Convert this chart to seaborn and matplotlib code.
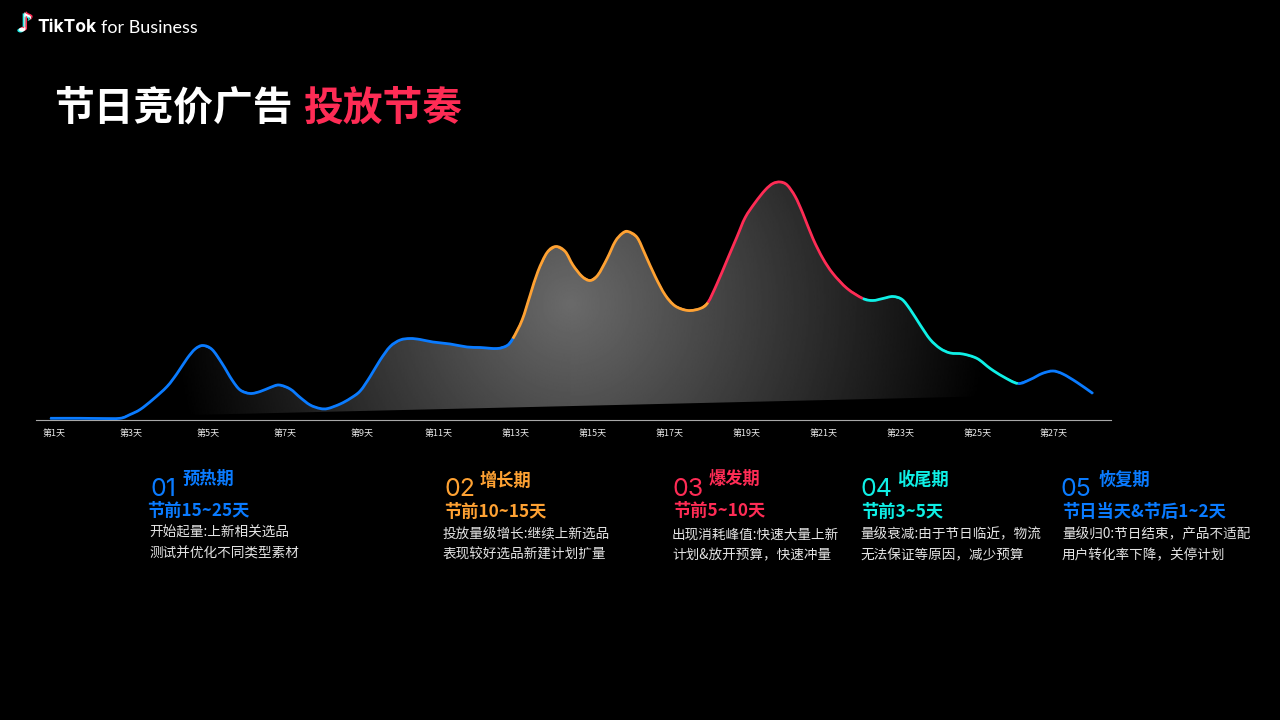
import numpy as np
import pandas as pd
import matplotlib
matplotlib.use("Agg")
import matplotlib.pyplot as plt
import matplotlib.patheffects as pe
from matplotlib.patches import Polygon, PathPatch
from matplotlib.path import Path
import seaborn as sns

# ---------- data ----------
stage_names = ["预热期", "增长期", "爆发期", "收尾期", "恢复期"]
numbers = ["01", "02", "03", "04", "05"]
subtitles = ["节前15~25天", "节前10~15天", "节前5~10天", "节前3~5天", "节日当天&节后1~2天"]
desc_line1 = ["开始起量:上新相关选品", "投放量级增长:继续上新选品", "出现消耗峰值:快速大量上新",
              "量级衰减:由于节日临近，物流", "量级归0:节日结束，产品不适配"]
desc_line2 = ["测试并优化不同类型素材", "表现较好选品新建计划扩量", "计划&放开预算，快速冲量",
              "无法保证等原因，减少预算", "用户转化率下降，关停计划"]
tick_days = list(range(1, 28, 2))
tick_labels = [f"第{d}天" for d in tick_days]

days_1 = [0.90, 1.00, 1.68, 2.20, 2.72, 2.98, 3.24, 3.57, 3.94, 4.20, 4.46, 4.67, 4.87, 5.11, 5.37, 5.63,
          5.84, 6.10, 6.36, 6.62, 6.85, 7.14, 7.40, 7.66, 7.92, 8.12, 8.44, 8.70, 8.96, 9.22, 9.48,
          9.74, 10.00, 10.26, 10.52, 10.85, 11.30, 11.74, 12.08, 12.52, 12.78, 12.93]
vals_1 = [1.2, 1.2, 1.2, 1.0, 1.2, 5, 10, 20, 33, 46, 61, 70.5, 74, 70, 56, 39.5,
          29.5, 26, 28, 32, 34.5, 30.5, 22, 14.5, 11, 11, 15.5, 21, 28.5, 43, 59.5,
          73, 79.5, 81, 80, 77.5, 75.5, 72.5, 72, 71, 74, 81]
days_2 = [12.93, 13.17, 13.38, 13.58, 13.82, 14.05, 14.29, 14.49, 14.73, 14.94, 15.14, 15.38, 15.59,
          15.77, 15.92, 16.16, 16.37, 16.63, 16.89, 17.15, 17.48, 17.80, 18.00]
vals_2 = [81, 99.5, 124.5, 148, 167, 173, 168, 154.5, 143, 139, 144.5, 161, 178,
          186, 188, 182, 165, 143, 124.5, 113.5, 109, 111, 117]
days_3 = [18.00, 18.24, 18.50, 18.76, 18.97, 19.23, 19.49, 19.69, 19.88, 20.06, 20.27, 20.47, 20.73,
          20.99, 21.25, 21.62, 22.03]
vals_3 = [117, 136, 159.5, 183, 202, 217, 229.5, 236, 237.5, 234.5, 223, 206, 181,
          161, 146, 131, 121]
days_4 = [22.03, 22.29, 22.55, 22.81, 23.05, 23.26, 23.52, 23.78, 24.04, 24.30, 24.63, 25.00, 25.34,
          25.67, 26.06]
vals_4 = [121, 119, 121, 123, 120, 110, 94.5, 80, 71, 66.5, 65.5, 61, 51, 43, 36]
days_5 = [26.06, 26.38, 26.69, 26.97, 27.23, 27.60, 28.01]
vals_5 = [36, 40, 46, 48.5, 45.5, 37, 26]

base_days = [26.0, 4.0]
base_vals = [23.9, 4.0]

BLUE, ORANGE, RED, CYAN = "#0A7BFF", "#FFA233", "#FE2C55", "#0FF0E6"
stage_colors = [BLUE, ORANGE, RED, CYAN, BLUE]

# ---------- setup ----------
sns.set_theme(style="dark", rc={"axes.facecolor": "black", "figure.facecolor": "black"})
plt.rcParams["font.family"] = ["Noto Sans CJK SC", "DejaVu Sans"]

W, H = 1280, 720
fig = plt.figure(figsize=(12.8, 7.2), dpi=100, facecolor="black")


def fx(x):
    return x / W


def fy(y):
    return 1 - y / H


def px(size):
    return size * 0.72


left, right, base_y, top_y = 36, 1111, 419.5, 140
ax = fig.add_axes([fx(left), fy(base_y), (right - left) / W, (base_y - top_y) / H])
ax.set_facecolor("black")

# ---------- gradient area ----------
stage_days = [days_1, days_2, days_3, days_4, days_5]
stage_vals = [vals_1, vals_2, vals_3, vals_4, vals_5]
all_days = days_1 + days_2[1:] + days_3[1:] + days_4[1:] + days_5[1:]
all_vals = vals_1 + vals_2[1:] + vals_3[1:] + vals_4[1:] + vals_5[1:]
curve = [(d, v) for d, v in zip(all_days, all_vals) if base_days[1] - 0.1 <= d <= base_days[0] + 0.1]
poly_pts = curve + list(zip(base_days, base_vals))

gd, gv = np.meshgrid(np.linspace(3, 28, 700), np.linspace(0, 280, 280))
dx = (gd - 14.42) * 38.46
dy = gv - 114.5
radius = np.hypot(dx, dy)
reach = np.where(dx < 0, 400.0, 420.0)
shade = np.clip(106 * (1 - radius / reach), 0, 255)
im = ax.imshow(shade, extent=[3, 28, 0, 280], origin="lower", cmap="gray", vmin=0, vmax=255,
               aspect="auto", zorder=1, interpolation="bilinear")
clip = Polygon(poly_pts, closed=True, transform=ax.transData, facecolor="none", edgecolor="none")
ax.add_patch(clip)
im.set_clip_path(clip)

# ---------- line: thin seaborn polyline through the readings, rounded by a Bezier stroke ----------
frames = [pd.DataFrame({"day": d, "value": v, "stage": n})
          for n, d, v in zip(numbers, stage_days, stage_vals)]
df = pd.concat(frames, ignore_index=True)
sns.lineplot(data=df, x="day", y="value", hue="stage", palette=stage_colors, sort=False,
             estimator=None, legend=False, linewidth=0.8, ax=ax, zorder=3)

pts = np.column_stack([all_days, all_vals])
tangents = np.zeros_like(pts)
tangents[1:-1] = (pts[2:] - pts[:-2]) / 6.0
tangents[0] = (pts[1] - pts[0]) / 3.0
tangents[-1] = (pts[-1] - pts[-2]) / 3.0
start = 0
for d, col in zip(stage_days, stage_colors):
    stop = start + len(d) - 1
    verts = [tuple(pts[start])]
    codes = [Path.MOVETO]
    for k in range(start, stop):
        verts += [tuple(pts[k] + tangents[k]), tuple(pts[k + 1] - tangents[k + 1]), tuple(pts[k + 1])]
        codes += [Path.CURVE4] * 3
    ax.add_patch(PathPatch(Path(verts, codes), facecolor="none", edgecolor=col, linewidth=2.0,
                           capstyle="butt", joinstyle="round", zorder=4))
    start = stop

ax.set_xlim(0.532, 28.48)
ax.set_ylim(0, base_y - top_y)
ax.set_xlabel("")
ax.set_ylabel("")
ax.set_yticks([])
ax.set_xticks(tick_days)
ax.set_xticklabels(tick_labels, fontsize=px(9), color="#e8e8e8")
ax.tick_params(axis="x", length=0, pad=7.0)
ax.grid(False)
for s in ["top", "left", "right"]:
    ax.spines[s].set_visible(False)
ax.spines["bottom"].set_color("#a8a8a8")
ax.spines["bottom"].set_linewidth(0.8)

# ---------- header ----------
fig.text(fx(54), fy(108), "节日竞价广告", color="white", fontsize=px(39.8), fontweight="bold", va="center")
fig.text(fx(303), fy(108), "投放节奏", color=RED, fontsize=px(39.8), fontweight="bold", va="center")

fig.text(fx(25), fy(24.5), "♪", color="white", fontsize=px(26), family=["DejaVu Sans"], ha="center", va="center",
         path_effects=[pe.SimplePatchShadow(offset=(-1.1, -0.6), shadow_rgbFace="#25F4EE", alpha=1),
                       pe.SimplePatchShadow(offset=(1.1, 0.6), shadow_rgbFace="#FE2C55", alpha=1),
                       pe.Normal()])
fig.text(fx(37), fy(28), "TikTok", color="white", fontsize=px(17.5), family=["Inter"], fontweight="bold", va="center")
fig.text(fx(101), fy(28), "for Business", color="white", fontsize=px(18), family=["Lato"], va="center")

# ---------- captions ----------
num_x = [150, 444, 672, 860, 1061]
title_x = [183, 480, 709, 897, 1099]
title_y = [478.5, 480.5, 478.5, 479.5, 479.5]
sub_x = [147, 444, 673, 861, 1062]
sub_y = [510.5, 511.5, 510.5, 511.5, 511.5]
desc_x = [149, 443, 672, 860, 1062]
desc_y1 = [533, 534, 534, 534, 534]
desc_y2 = [554, 555, 555, 555, 555]

for i in range(5):
    c = stage_colors[i]
    fig.text(fx(num_x[i]), fy(489.5), numbers[i], color=c, fontsize=px(25), family=["Inter"],
             fontweight="normal", va="center")
    fig.text(fx(title_x[i]), fy(title_y[i]), stage_names[i], color=c, fontsize=px(17.2), fontweight="bold", va="center")
    fig.text(fx(sub_x[i]), fy(sub_y[i]), subtitles[i], color=c, fontsize=px(17.2), fontweight="bold", va="center")
    fig.text(fx(desc_x[i]), fy(desc_y1[i]), desc_line1[i], color="#e4e4e4", fontsize=px(13.6), va="center")
    fig.text(fx(desc_x[i]), fy(desc_y2[i]), desc_line2[i], color="#e4e4e4", fontsize=px(13.6), va="center")

fig.savefig("out.png", dpi=100, facecolor="black")
